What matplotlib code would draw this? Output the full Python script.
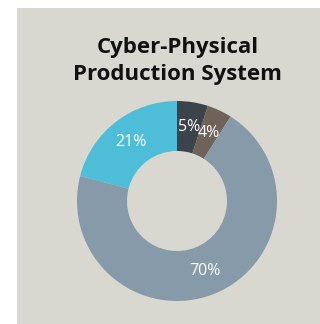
import matplotlib
matplotlib.use("Agg")
import matplotlib.pyplot as plt

# Share of each segment, clockwise from 12 o'clock
labels = ["Segment A", "Segment B", "Segment C", "Segment D"]
shares = [5, 4, 70, 21]
colors = ["#3b444b", "#6e6259", "#879aa9", "#4dbdd8"]
title = "Cyber-Physical\nProduction System"

W, H = 320, 324
fig = plt.figure(figsize=(W / 100, H / 100), dpi=100)
fig.patch.set_facecolor("white")

# grey panel
bg = fig.add_axes([17 / W, 0, (W - 17) / W, (H - 8) / H])
bg.set_facecolor("#d8d8d0")
for s in bg.spines.values():
    s.set_visible(False)
bg.set_xticks([])
bg.set_yticks([])

# donut
cx, cy, r = 177, H - 201, 100
ax = fig.add_axes([(cx - r) / W, (cy - r) / H, 2 * r / W, 2 * r / H])
ax.set_facecolor("none")
wedges, texts = ax.pie(
    shares,
    colors=colors,
    startangle=90,
    counterclock=False,
    radius=1.0,
    wedgeprops=dict(width=0.5, linewidth=0),
    labels=[f"{v}%" for v in shares],
    labeldistance=0.75,
    textprops=dict(color="white", fontsize=11.5, family="Open Sans"),
)
for t in texts:
    t.set_ha("center")
    t.set_va("center")
ax.set_xlim(-1, 1)
ax.set_ylim(-1, 1)
ax.axis("off")

fig.text(177.5 / W, 1 - 61 / H, title, ha="center", va="center",
         fontsize=16, fontweight="bold", family="Open Sans",
         color="#111111", linespacing=1.35)

fig.savefig("out.png", dpi=100)
